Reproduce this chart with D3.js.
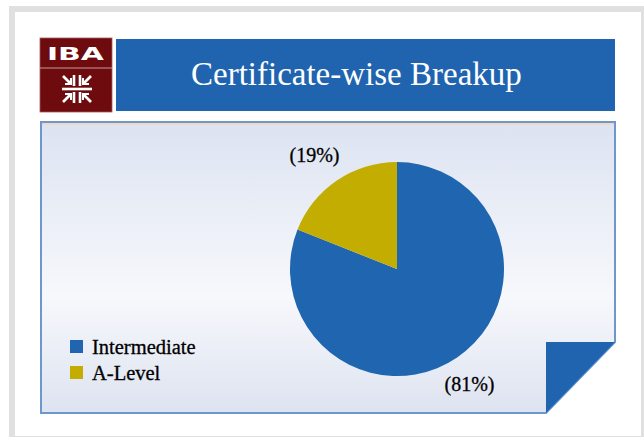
<!DOCTYPE html>
<html lang="en">
    <head>
        <script type="text/javascript" src="https://cdn.jsdelivr.net/npm/d3@7"></script>
        <title>Certificate-wise Breakup</title>
        <style>
            body { margin: 0; background: #fff; }
        </style>
    </head>
    <body>
        <script type="text/javascript">
            var w = 644;
            var h = 437;

            // data
            var categories = ["Intermediate", "A-Level"];
            var values = [81, 19];
            var labels = ["(81%)", "(19%)"];
            var colors = ["#2065b0", "#c3ad00"];

            var svg = d3.select("body")
                        .append("svg")
                        .attr("width", w)
                        .attr("height", h);

            var defs = svg.append("defs");
            var grad = defs.append("linearGradient")
                        .attr("id", "boxGrad")
                        .attr("x1", 0).attr("y1", 0)
                        .attr("x2", 0).attr("y2", 1);
            grad.append("stop").attr("offset", "0%").attr("stop-color", "#dce3f1");
            grad.append("stop").attr("offset", "60%").attr("stop-color", "#f7f8fc");
            grad.append("stop").attr("offset", "100%").attr("stop-color", "#dde3f0");

            // gray frame
            svg.append("rect")
                .attr("x", 9).attr("y", 6)
                .attr("width", 635).attr("height", 431)
                .attr("fill", "#e0e0e0");
            svg.append("rect")
                .attr("x", 15).attr("y", 12)
                .attr("width", 626).attr("height", 424)
                .attr("fill", "#ffffff");

            // logo
            var logo = svg.append("g");
            logo.append("rect")
                .attr("x", 40).attr("y", 38)
                .attr("width", 72).attr("height", 74)
                .attr("fill", "#6d0b0e")
                .attr("stroke", "#a45a5c")
                .attr("stroke-width", 0.8);
            logo.append("line")
                .attr("x1", 40).attr("x2", 112)
                .attr("y1", 68).attr("y2", 68)
                .attr("stroke", "#c99a9b").attr("stroke-width", 1);
            logo.append("text")
                .attr("x", 47).attr("y", 60)
                .attr("font-family", "DejaVu Sans")
                .attr("font-weight", "bold")
                .attr("font-size", "18px")
                .attr("textLength", 57)
                .attr("lengthAdjust", "spacingAndGlyphs")
                .attr("fill", "#ffffff")
                .text("IBA");

            // emblem: bar with arrows pointing to the centre
            var cx = 77, cy = 89;
            var em = logo.append("g").attr("stroke", "#ffffff").attr("stroke-width", 2.6)
                        .attr("fill", "none").attr("stroke-linecap", "butt");
            em.append("line").attr("x1", cx - 15).attr("x2", cx + 15).attr("y1", cy).attr("y2", cy);
            [[-1, -1], [1, -1], [-1, 1], [1, 1]].forEach(function(s){
                // vertical stroke
                em.append("line")
                    .attr("x1", cx + s[0] * 3).attr("y1", cy + s[1] * 3)
                    .attr("x2", cx + s[0] * 3).attr("y2", cy + s[1] * 14);
                // diagonal shaft
                em.append("line")
                    .attr("x1", cx + s[0] * 6).attr("y1", cy + s[1] * 5)
                    .attr("x2", cx + s[0] * 14).attr("y2", cy + s[1] * 13);
                // arrow head
                em.append("polyline")
                    .attr("stroke-width", 2)
                    .attr("points", (cx + s[0] * 12) + "," + (cy + s[1] * 5) + " " +
                        (cx + s[0] * 6) + "," + (cy + s[1] * 5) + " " +
                        (cx + s[0] * 6) + "," + (cy + s[1] * 11));
            });

            // title bar
            svg.append("rect")
                .attr("x", 116).attr("y", 39)
                .attr("width", 499).attr("height", 72)
                .attr("fill", "#2064b0");
            svg.append("text")
                .attr("x", 191).attr("y", 85)
                .attr("font-family", "Liberation Serif")
                .attr("font-size", "33px")
                .attr("fill", "#ffffff")
                .text("Certificate-wise Breakup");

            // chart box with folded corner
            var bx = 41, by = 122, bw = 574, bh = 291, fold = 69;
            svg.append("path")
                .attr("d", "M" + bx + "," + by +
                    " L" + (bx + bw) + "," + by +
                    " L" + (bx + bw) + "," + (by + bh - fold - 2) +
                    " L" + (bx + bw - fold) + "," + (by + bh) +
                    " L" + bx + "," + (by + bh) + " Z")
                .attr("fill", "url(#boxGrad)")
                .attr("stroke", "#6d98cb")
                .attr("stroke-width", 2);
            svg.append("line")
                .attr("x1", bx + 1).attr("x2", bx + bw - 1)
                .attr("y1", by + 2).attr("y2", by + 2)
                .attr("stroke", "#f3d9c4").attr("stroke-width", 2);
            svg.append("path")
                .attr("d", "M" + (bx + bw - fold) + "," + (by + bh - fold - 2) +
                    " L" + (bx + bw) + "," + (by + bh - fold - 2) +
                    " L" + (bx + bw - fold) + "," + (by + bh) + " Z")
                .attr("fill", "#2064b0");

            // pie
            var pcx = 397, pcy = 269, r = 107;
            var pie = d3.pie().sort(null).value(function(d){ return d; });
            var arc = d3.arc().innerRadius(0).outerRadius(r);
            var arcs = pie(values);

            var g = svg.append("g").attr("transform", "translate(" + pcx + "," + pcy + ")");
            g.selectAll("path")
                .data(arcs)
                .enter()
                .append("path")
                .attr("d", arc)
                .attr("fill", function(d, i){ return colors[i]; });

            // slice labels outside the pie
            var labelArc = d3.arc().innerRadius(r + 22).outerRadius(r + 22);
            g.selectAll("text")
                .data(arcs)
                .enter()
                .append("text")
                .attr("x", function(d, i){
                    return labelArc.centroid(d)[0] + (i === 0 ? 0 : -10);
                })
                .attr("y", function(d, i){
                    return labelArc.centroid(d)[1] + (i === 0 ? 15 : 0);
                })
                .attr("text-anchor", "middle")
                .attr("font-family", "Liberation Serif")
                .attr("font-size", "20px")
                .attr("stroke", "#000000")
                .attr("stroke-width", 0.3)
                .attr("fill", "#000000")
                .text(function(d, i){ return labels[i]; });

            // legend
            var legend = svg.selectAll(".legend")
                .data(categories)
                .enter()
                .append("g")
                .attr("class", "legend")
                .attr("transform", function(d, i){
                    return "translate(70," + (340 + i * 26) + ")";
                });
            legend.append("rect")
                .attr("width", 13).attr("height", 13)
                .attr("fill", function(d, i){ return colors[i]; });
            legend.append("text")
                .attr("x", 22).attr("y", 14)
                .attr("font-family", "Liberation Serif")
                .attr("font-size", "20.5px")
                .attr("stroke", "#000000")
                .attr("stroke-width", 0.3)
                .attr("fill", "#000000")
                .text(function(d){ return d; });
        </script>
    </body>
</html>
